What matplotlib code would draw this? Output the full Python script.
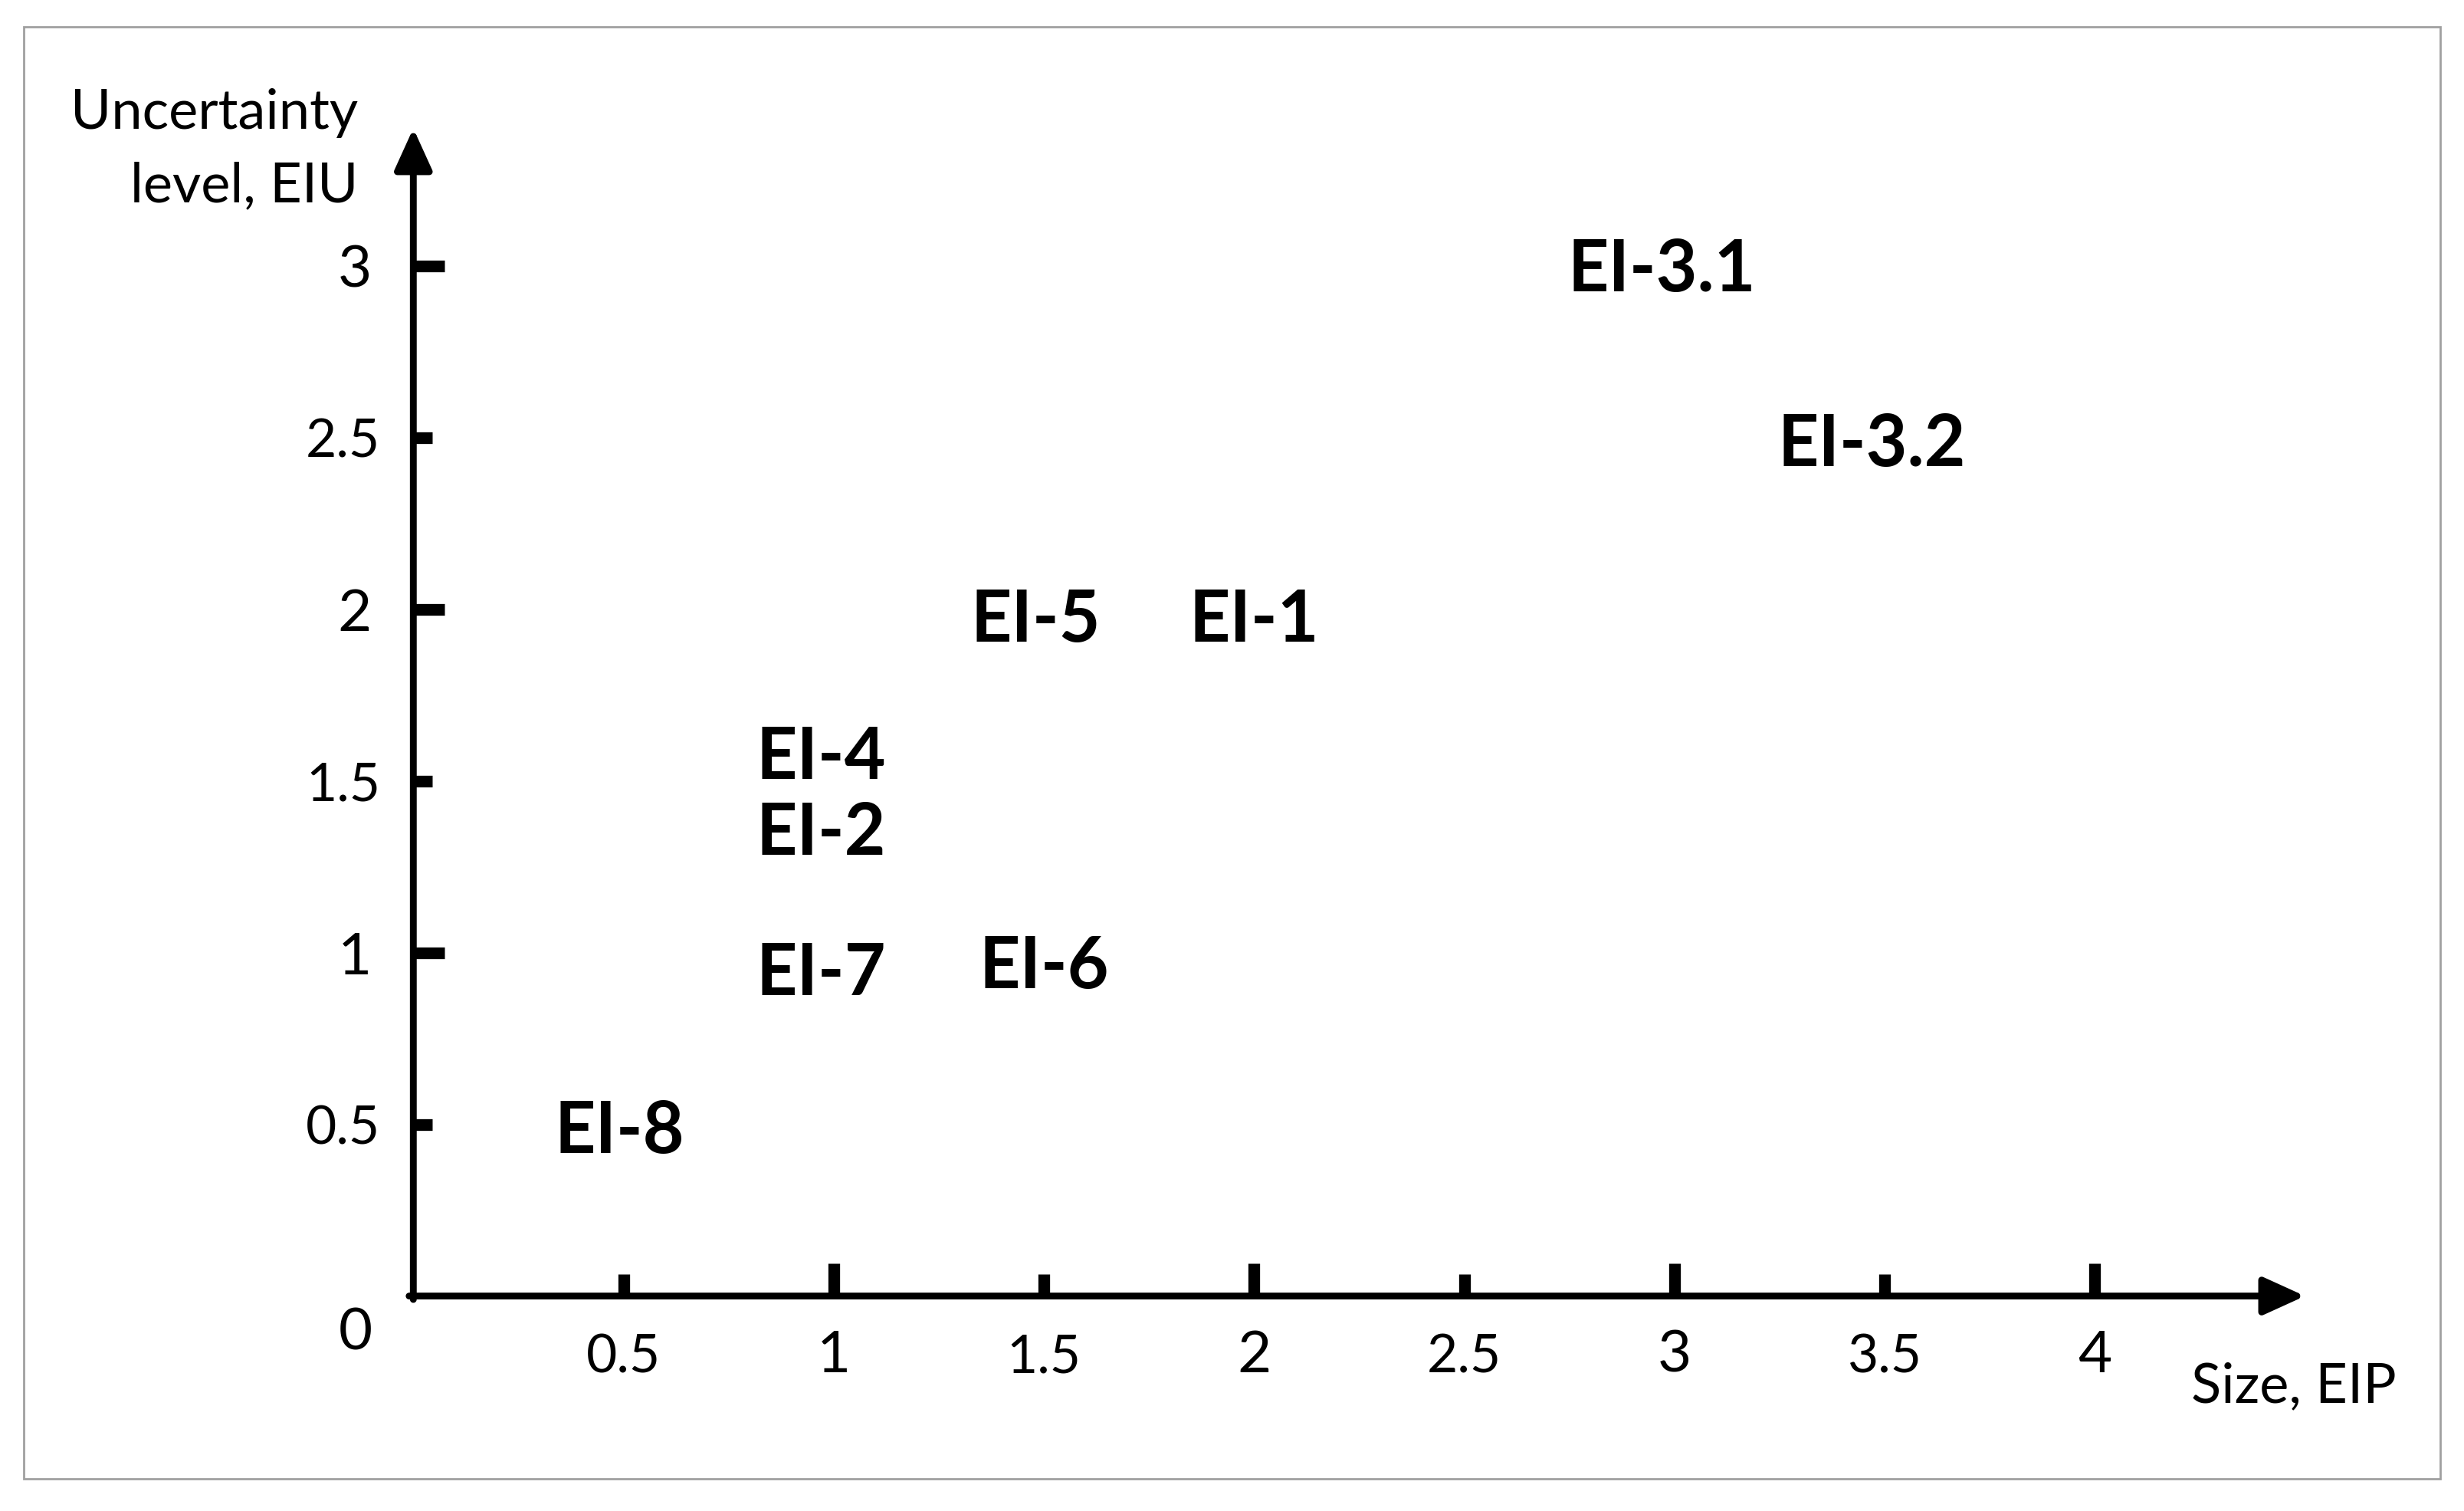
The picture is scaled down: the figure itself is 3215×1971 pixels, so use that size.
import matplotlib
matplotlib.use('Agg')
import matplotlib.pyplot as plt
from matplotlib.patches import Rectangle

# point labels and where they sit (size EIP, uncertainty EIU)
labels = ["EI-1", "EI-2", "EI-3.1", "EI-3.2", "EI-4", "EI-5", "EI-6", "EI-7", "EI-8"]
size_eip = [2.0, 0.97, 2.97, 3.47, 0.97, 1.48, 1.5, 0.97, 0.49]
uncert_eiu = [1.98, 1.36, 3.0, 2.49, 1.58, 1.98, 0.97, 0.95, 0.49]

x_major = [1, 2, 3, 4]
x_minor = [0.5, 1.5, 2.5, 3.5]
y_major = [1, 2, 3]
y_minor = [0.5, 1.5, 2.5]

plt.rcParams['font.family'] = ['Lato', 'DejaVu Sans']

fig = plt.figure(figsize=(16.075, 9.855), dpi=200)
ax = fig.add_axes([0, 0, 1, 1])
ax.set_xlim(-0.9832, 4.8782)
ax.set_ylim(-0.6259, 3.7737)
ax.patch.set_alpha(0)

# axes through the origin, lines drawn as arrows below
for s in ['top', 'right', 'left', 'bottom']:
    ax.spines[s].set_visible(False)
ax.spines['left'].set_position(('data', 0))
ax.spines['bottom'].set_position(('data', 0))

arrow = dict(arrowstyle='-|>,head_length=0.55,head_width=0.25', lw=3.2,
             color='black', mutation_scale=30, shrinkA=0, shrinkB=0)
ax.annotate('', xy=(4.5, 0), xytext=(-0.01, 0), arrowprops=arrow)
ax.annotate('', xy=(0, 3.4), xytext=(0, -0.01), arrowprops=arrow)

ax.set_xticks(x_major, [str(v) for v in x_major])
ax.set_xticks(x_minor, [str(v) for v in x_minor], minor=True)
ax.set_yticks(y_major, [str(v) for v in y_major])
ax.set_yticks(y_minor, [str(v) for v in y_minor], minor=True)
ax.tick_params(axis='both', which='both', direction='in', width=5.5, color='black')
ax.tick_params(axis='x', which='major', length=15.5, labelsize=27.5, pad=15.5)
ax.tick_params(axis='x', which='minor', length=10.5, labelsize=25, pad=17.5)
ax.tick_params(axis='y', which='major', length=14.8, labelsize=27.5, pad=19.5)
ax.tick_params(axis='y', which='minor', length=9, labelsize=25, pad=15.5)

ax.text(-0.131, 3.398, "Uncertainty", ha='right', va='baseline', fontsize=26)
ax.text(-0.131, 3.187, "level, EIU", ha='right', va='baseline', fontsize=26)
ax.text(4.718, -0.31, "Size, EIP", ha='right', va='baseline', fontsize=26)
ax.text(-0.138, -0.157, "0", ha='center', va='baseline', fontsize=27.5)

fs = 33.5
for name, x, y in zip(labels, size_eip, uncert_eiu):
    ax.annotate(name, (x, y), xytext=(0, -0.7165 * fs / 2), textcoords='offset points',
                ha='center', va='baseline', fontsize=fs, fontweight='bold')

fig.add_artist(Rectangle((0.0096, 0.0213), 0.9807, 0.961, transform=fig.transFigure,
                         fill=False, edgecolor='#a0a0a0', lw=1))

fig.savefig('out.png', dpi=200, facecolor='white')
